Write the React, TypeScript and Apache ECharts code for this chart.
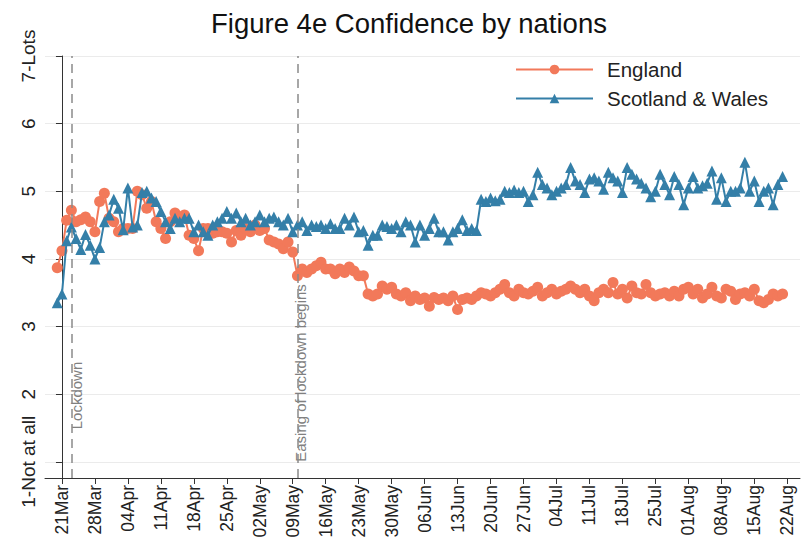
import React, { useEffect, useRef } from "react";
import * as echarts from "echarts";

// Day offsets: 0 = 21 Mar 2020. Data run from 20 Mar (-1) to 21 Aug (153).
const startDay = -1;

const englandMar = [3.87, 4.12, 4.57, 4.72, 4.55, 4.58, 4.62, 4.55, 4.4, 4.85, 4.97, 4.6];
const englandApr = [
  4.55, 4.4, 4.45, 4.45, 4.45, 5.0, 4.95, 4.75, 4.85, 4.55,
  4.45, 4.3, 4.55, 4.68, 4.62, 4.65, 4.35, 4.3, 4.12, 4.45,
  4.45, 4.38, 4.4, 4.4, 4.38, 4.25, 4.42, 4.35, 4.45, 4.4,
];
const englandMay = [
  4.5, 4.42, 4.45, 4.28, 4.25, 4.22, 4.15, 4.25, 4.1, 3.75,
  3.85, 3.8, 3.85, 3.9, 3.95, 3.85, 3.85, 3.78, 3.85, 3.8,
  3.88, 3.82, 3.75, 3.75, 3.48, 3.45, 3.48, 3.6, 3.55, 3.58, 3.48,
];
const englandJun = [
  3.45, 3.5, 3.38, 3.45, 3.4, 3.42, 3.3, 3.43, 3.4, 3.42,
  3.38, 3.45, 3.25, 3.4, 3.42, 3.4, 3.45, 3.5, 3.48, 3.45,
  3.5, 3.55, 3.62, 3.5, 3.45, 3.55, 3.5, 3.48, 3.52, 3.58,
];
const englandJul = [
  3.45, 3.5, 3.55, 3.48, 3.52, 3.55, 3.6, 3.55, 3.5, 3.55,
  3.45, 3.38, 3.5, 3.55, 3.5, 3.65, 3.48, 3.55, 3.42, 3.6,
  3.5, 3.48, 3.62, 3.5, 3.45, 3.48, 3.5, 3.45, 3.52, 3.45, 3.55,
];
const englandAug = [
  3.58, 3.48, 3.55, 3.42, 3.48, 3.58, 3.45, 3.42, 3.55, 3.52,
  3.4, 3.48, 3.5, 3.45, 3.55, 3.38, 3.35, 3.4, 3.48, 3.45, 3.48,
];

const scotMar = [3.35, 3.48, 4.27, 4.47, 4.3, 4.14, 4.36, 4.2, 4.0, 4.17, 4.55, 4.65];
const scotApr = [
  4.88, 4.75, 4.43, 5.05, 4.47, 4.5, 4.98, 5.0, 4.9, 4.85,
  4.7, 4.55, 4.45, 4.6, 4.55, 4.6, 4.6, 4.4, 4.5, 4.4,
  4.35, 4.5, 4.55, 4.6, 4.7, 4.6, 4.68, 4.55, 4.6, 4.5,
];
const scotMay = [
  4.55, 4.65, 4.55, 4.6, 4.62, 4.55, 4.5, 4.6, 4.4, 4.5,
  4.55, 4.42, 4.5, 4.48, 4.5, 4.45, 4.52, 4.45, 4.45, 4.6,
  4.5, 4.62, 4.4, 4.42, 4.2, 4.35, 4.35, 4.5, 4.48, 4.45, 4.5,
];
const scotJun = [
  4.4, 4.55, 4.5, 4.25, 4.5, 4.35, 4.45, 4.6, 4.4, 4.4,
  4.28, 4.4, 4.45, 4.58, 4.42, 4.45, 4.42, 4.88, 4.85, 4.9,
  4.86, 4.88, 5.0, 4.98, 5.02, 4.98, 5.0, 4.85, 4.95, 5.28,
];
const scotJul = [
  5.1, 5.05, 4.95, 5.0, 5.05, 5.1, 5.35, 5.15, 5.1, 4.98,
  5.18, 5.2, 5.15, 5.03, 5.28, 5.2, 5.15, 4.98, 5.35, 5.25,
  5.18, 5.12, 5.05, 4.92, 5.0, 5.25, 5.1, 4.95, 5.22, 5.1, 4.8,
];
const scotAug = [
  5.05, 5.22, 5.05, 5.08, 5.12, 5.3, 4.88, 5.2, 4.85, 5.0,
  5.0, 5.05, 5.43, 5.0, 5.15, 4.85, 5.0, 5.05, 4.8, 5.1, 5.22,
];

const englandValues = [...englandMar, ...englandApr, ...englandMay, ...englandJun, ...englandJul, ...englandAug];
const scotValues = [...scotMar, ...scotApr, ...scotMay, ...scotJun, ...scotJul, ...scotAug];

const xTickDays = [0, 7, 14, 21, 28, 35, 42, 49, 56, 63, 70, 77, 84, 91, 98, 105, 112, 119, 126, 133, 140, 147, 154];
const yTickValues = [1, 2, 3, 4, 5, 6, 7];
const yTickLabels: Record<number, string> = { 1: "1-Not at all", 2: "2", 3: "3", 4: "4", 5: "5", 6: "6", 7: "7-Lots" };

const lockdownDay = 2; // 23 Mar
const easingDay = 50; // 10 May

const monthNames = ["Jan", "Feb", "Mar", "Apr", "May", "Jun", "Jul", "Aug", "Sep", "Oct", "Nov", "Dec"];
function dayLabel(d: number): string {
  const dt = new Date(Date.UTC(2020, 2, 21 + Math.round(d)));
  const dd = String(dt.getUTCDate()).padStart(2, "0");
  return dd + monthNames[dt.getUTCMonth()];
}

const FONT = "'Liberation Sans', Arial, sans-serif";
const ENG = "#F2795A";
const SCO = "#347FA8";

export default function App() {
  const ref = useRef<HTMLDivElement>(null);
  useEffect(() => {
    document.body.style.margin = "0";
    if (!ref.current) return;
    const chart = echarts.init(ref.current, null, { renderer: "svg" });
    const engData = englandValues.map((v, i) => [startDay + i, v]);
    const scoData = scotValues.map((v, i) => [startDay + i, v]);
    chart.setOption({
      animation: false,
      backgroundColor: "#ffffff",
      textStyle: { fontFamily: FONT },
      title: {
        text: "Figure 4e Confidence by nations",
        left: 206,
        top: 4,
        textStyle: { fontSize: 27.5, fontWeight: "normal", color: "#111", fontFamily: FONT },
      },
      legend: {
        orient: "vertical",
        left: 515,
        top: 59,
        padding: 0,
        itemWidth: 77,
        itemHeight: 12,
        itemGap: 8,
        textStyle: { fontSize: 20.5, color: "#222", fontFamily: FONT, padding: [0, 0, 0, 9] },
        data: ["England", "Scotland & Wales"],
      },
      grid: { left: 45, right: 3, top: 56, bottom: 78 },
      xAxis: {
        type: "value",
        min: -3.6,
        max: 156.7,
        axisLine: { show: true, onZero: false, lineStyle: { color: "#333", width: 1 } },
        axisTick: { show: true, customValues: xTickDays, length: 6, lineStyle: { color: "#333" } },
        axisLabel: {
          customValues: xTickDays,
          rotate: 90,
          fontSize: 17.5,
          color: "#222",
          margin: 7,
          fontFamily: FONT,
          formatter: (v: number) => dayLabel(v),
        },
        splitLine: { show: false },
      },
      yAxis: {
        type: "value",
        min: 0.76,
        max: 7,
        axisLine: { show: true, lineStyle: { color: "#333", width: 1 } },
        axisTick: { show: true, customValues: yTickValues, length: 6, lineStyle: { color: "#333" } },
        axisLabel: {
          customValues: yTickValues,
          rotate: 90,
          fontSize: 19,
          color: "#222",
          margin: 7,
          fontFamily: FONT,
          formatter: (v: number) => yTickLabels[Math.round(v)] ?? "",
        },
        splitLine: { show: true, lineStyle: { color: "#ebebeb", width: 1 } },
      },
      series: [
        {
          name: "England",
          type: "line",
          data: engData,
          symbol: "circle",
          symbolSize: 11,
          itemStyle: { color: ENG },
          lineStyle: { color: ENG, width: 2 },
          z: 2,
          markLine: {
            silent: true,
            symbol: "none",
            label: { show: false },
            lineStyle: { color: "#8a8a8a", type: [9, 6], width: 1.5 },
            data: [{ xAxis: lockdownDay }, { xAxis: easingDay }],
          },
        },
        {
          name: "Scotland & Wales",
          type: "line",
          data: scoData,
          symbol: "triangle",
          symbolSize: 11,
          itemStyle: { color: SCO },
          lineStyle: { color: SCO, width: 2 },
          z: 3,
        },
      ],
    });
    const p1 = chart.convertToPixel({ gridIndex: 0 }, [lockdownDay, 1.48]) as number[];
    const p2 = chart.convertToPixel({ gridIndex: 0 }, [easingDay, 1.0]) as number[];
    chart.setOption({
      graphic: [
        {
          type: "text",
          x: p1[0] + 5,
          y: p1[1],
          rotation: Math.PI / 2,
          style: { text: "Lockdown", fontSize: 15, fill: "#808080", fontFamily: FONT, align: "left", verticalAlign: "middle" },
        },
        {
          type: "text",
          x: p2[0] + 3,
          y: p2[1],
          rotation: Math.PI / 2,
          style: { text: "Easing of lockdown begins", fontSize: 15, fill: "#808080", fontFamily: FONT, align: "left", verticalAlign: "middle" },
        },
      ],
    });
    return () => chart.dispose();
  }, []);
  return <div ref={ref} style={{ width: 803, height: 556 }} />;
}
